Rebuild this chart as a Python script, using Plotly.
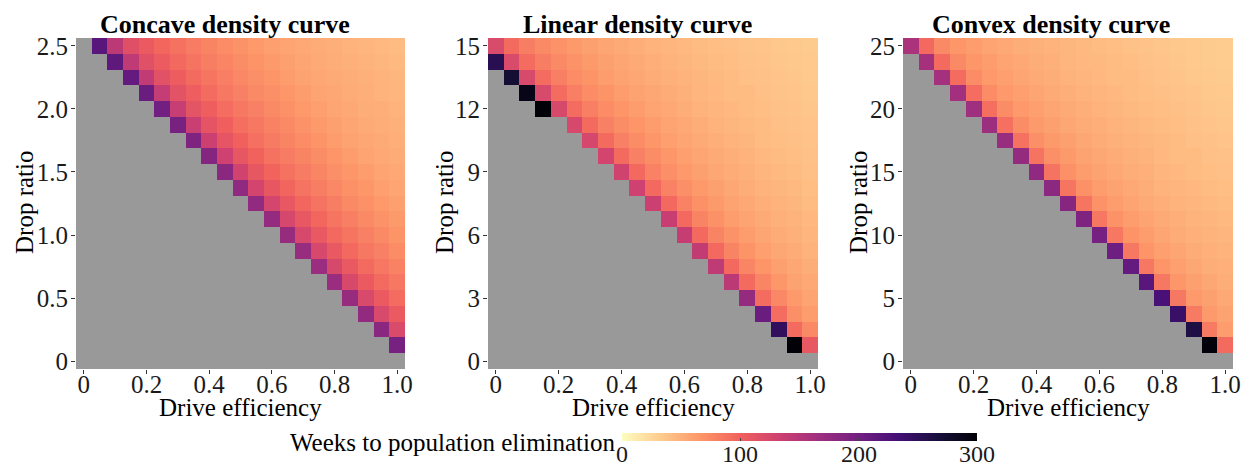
import plotly.graph_objects as go

# Drive efficiency (x) shared by all three panels
efficiency = [0.0, 0.05, 0.1, 0.15, 0.2, 0.25, 0.3, 0.35, 0.4, 0.45, 0.5,
              0.55, 0.6, 0.65, 0.7, 0.75, 0.8, 0.85, 0.9, 0.95, 1.0]

# Drop ratio (y) for each density curve, from top row down to 0
drop_concave = [2.5, 2.375, 2.25, 2.125, 2.0, 1.875, 1.75, 1.625, 1.5, 1.375, 1.25,
                1.125, 1.0, 0.875, 0.75, 0.625, 0.5, 0.375, 0.25, 0.125, 0.0]
drop_linear = [15.0, 14.25, 13.5, 12.75, 12.0, 11.25, 10.5, 9.75, 9.0, 8.25, 7.5,
               6.75, 6.0, 5.25, 4.5, 3.75, 3.0, 2.25, 1.5, 0.75, 0.0]
drop_convex = [25.0, 23.75, 22.5, 21.25, 20.0, 18.75, 17.5, 16.25, 15.0, 13.75, 12.5,
               11.25, 10.0, 8.75, 7.5, 6.25, 5.0, 3.75, 2.5, 1.25, 0.0]

# Weeks to population elimination, one list per drop-ratio row (top row first).
# Each row lists only the eliminated cells, which sit at the high-efficiency end;
# cells to their left never reach elimination and stay empty.
weeks_concave = [
    [218, 146, 117, 106, 96, 89, 83, 78, 73, 69, 65, 61, 58, 55, 53, 51, 49, 47, 45, 43],
    [214, 144, 116, 105, 95, 88, 82, 77, 72, 68, 64, 60, 57, 54, 52, 50, 48, 46, 44],
    [210, 142, 115, 104, 94, 87, 81, 76, 71, 67, 63, 59, 56, 54, 52, 50, 48, 46],
    [206, 140, 114, 103, 93, 86, 80, 75, 71, 66, 62, 58, 56, 53, 51, 49, 47],
    [201, 138, 113, 102, 92, 85, 80, 75, 70, 65, 61, 57, 55, 52, 51, 48],
    [196, 136, 112, 101, 91, 85, 79, 74, 69, 64, 60, 57, 54, 52, 50],
    [191, 134, 111, 100, 90, 84, 78, 73, 68, 63, 59, 56, 54, 51],
    [186, 132, 110, 99, 89, 83, 78, 72, 67, 62, 58, 55, 53],
    [182, 130, 109, 98, 89, 83, 77, 71, 66, 62, 58, 55],
    [178, 128, 109, 97, 88, 82, 76, 70, 66, 61, 57],
    [176, 127, 108, 96, 88, 82, 75, 70, 65, 60],
    [174, 126, 108, 96, 87, 81, 75, 69, 64],
    [172, 125, 107, 95, 87, 80, 74, 68],
    [171, 125, 107, 95, 86, 80, 73],
    [170, 124, 107, 94, 86, 79],
    [170, 124, 106, 94, 85],
    [172, 123, 106, 93],
    [176, 123, 106],
    [182, 122],
    [196],
    [],
]

weeks_linear = [
    [122, 94, 82, 74, 69, 64, 60, 57, 54, 51, 49, 47, 45, 43, 41, 40, 38, 37, 35, 34, 33],
    [255, 122, 93, 82, 74, 69, 64, 60, 57, 54, 51, 48, 46, 44, 43, 41, 39, 38, 36, 35, 34],
    [272, 123, 93, 81, 73, 68, 63, 59, 56, 53, 50, 48, 46, 44, 42, 40, 39, 37, 36, 34],
    [288, 123, 93, 81, 73, 68, 63, 59, 56, 53, 50, 47, 45, 43, 42, 40, 38, 37, 35],
    [298, 124, 93, 81, 73, 67, 62, 58, 55, 52, 49, 47, 45, 43, 41, 39, 38, 36],
    [125, 94, 80, 72, 67, 62, 58, 55, 52, 49, 46, 44, 42, 40, 39, 37],
    [126, 94, 80, 72, 66, 61, 57, 54, 51, 48, 46, 43, 41, 40, 38],
    [128, 94, 80, 72, 66, 61, 57, 54, 51, 48, 45, 43, 41, 39],
    [130, 95, 79, 71, 65, 60, 56, 53, 50, 47, 44, 42, 40],
    [132, 95, 79, 71, 65, 60, 56, 52, 49, 46, 44, 41],
    [134, 95, 79, 70, 64, 59, 55, 51, 48, 46, 43],
    [137, 95, 78, 70, 63, 58, 54, 50, 48, 45],
    [139, 95, 78, 69, 62, 57, 53, 50, 47],
    [141, 95, 78, 68, 61, 56, 53, 49],
    [143, 95, 77, 67, 60, 56, 52],
    [146, 94, 77, 66, 59, 55],
    [174, 93, 76, 65, 58],
    [205, 92, 71, 63],
    [248, 94, 74],
    [298, 108],
    [],
]

weeks_convex = [
    [158, 95, 74, 66, 62, 58, 55, 52, 50, 48, 46, 44, 42, 41, 39, 38, 36, 35, 34, 33, 32],
    [162, 94, 74, 66, 62, 58, 55, 52, 50, 47, 45, 44, 42, 41, 39, 37, 36, 34, 33, 32],
    [163, 93, 73, 65, 61, 57, 54, 52, 49, 47, 45, 43, 42, 40, 38, 37, 35, 34, 33],
    [164, 92, 73, 65, 61, 57, 54, 51, 49, 47, 45, 43, 41, 40, 38, 37, 35, 34],
    [166, 91, 72, 65, 61, 57, 54, 51, 49, 46, 44, 43, 41, 40, 38, 36, 35],
    [169, 90, 72, 64, 60, 56, 53, 51, 48, 46, 44, 42, 41, 39, 37, 36],
    [171, 89, 71, 64, 60, 56, 53, 50, 48, 46, 44, 42, 40, 39, 37],
    [174, 88, 71, 64, 59, 56, 53, 50, 48, 45, 43, 42, 40, 39],
    [177, 88, 70, 63, 59, 55, 52, 50, 47, 45, 43, 41, 40],
    [181, 87, 70, 63, 59, 55, 52, 49, 47, 45, 43, 41],
    [185, 87, 69, 62, 58, 54, 51, 49, 46, 44, 43],
    [191, 86, 69, 62, 58, 54, 51, 48, 46, 44],
    [197, 86, 68, 62, 57, 53, 50, 48, 46],
    [203, 86, 67, 61, 57, 53, 50, 48],
    [210, 85, 67, 61, 56, 52, 50],
    [218, 85, 66, 60, 56, 52],
    [230, 85, 65, 60, 55],
    [242, 84, 64, 59],
    [262, 84, 63],
    [296, 94],
    [],
]

panel_titles = ["Concave density curve", "Linear density curve", "Convex density curve"]
x_ticks = [0, 0.2, 0.4, 0.6, 0.8, 1.0]
x_ticktext = ["0", "0.2", "0.4", "0.6", "0.8", "1.0"]
y_ticks_concave = [0, 0.5, 1.0, 1.5, 2.0, 2.5]
y_ticktext_concave = ["0", "0.5", "1.0", "1.5", "2.0", "2.5"]
y_ticks_linear = [0, 3, 6, 9, 12, 15]
y_ticks_convex = [0, 5, 10, 15, 20, 25]
colorbar_ticks = [0, 100, 200, 300]

FONT = "Liberation Serif"
W, H = 1248, 468
CMIN, CMAX = 0, 300


def full_grid(rows):
    """Left-pad each row with empty cells so every row spans all efficiencies."""
    n = len(efficiency)
    return [[None] * (n - len(r)) + list(r) for r in rows]


def px_x(p):
    return p / W


def px_y(p):
    return 1 - p / H


fig = go.Figure()
panels = [
    (weeks_concave, drop_concave, y_ticks_concave, y_ticktext_concave),
    (weeks_linear, drop_linear, y_ticks_linear, [str(v) for v in y_ticks_linear]),
    (weeks_convex, drop_convex, y_ticks_convex, [str(v) for v in y_ticks_convex]),
]
x_domains = [(76, 405), (488, 818), (903, 1233)]
y_domain = [px_y(369), px_y(38)]

for k, (weeks, drops, yt, ytt) in enumerate(panels):
    suffix = "" if k == 0 else str(k + 1)
    fig.add_trace(go.Heatmap(
        x=efficiency, y=drops, z=full_grid(weeks),
        coloraxis="coloraxis",
        xaxis="x" + suffix, yaxis="y" + suffix,
        hoverongaps=False,
    ))
    step = drops[0] - drops[1]
    axis_common = dict(showgrid=False, zeroline=False, showline=False, automargin=False,
                       ticks="outside", ticklen=4, tickcolor="#333333", tickwidth=1,
                       tickfont=dict(family=FONT, size=25, color="#1a1a1a"))
    fig.update_layout(**{
        "xaxis" + suffix: dict(domain=[px_x(x_domains[k][0]), px_x(x_domains[k][1])],
                               range=[-0.025, 1.025], tickvals=x_ticks, ticktext=x_ticktext,
                               ticklabelstandoff=-11,
                               anchor="y" + suffix, **axis_common),
        "yaxis" + suffix: dict(domain=y_domain,
                               range=[-step / 2, drops[0] + step / 2], tickvals=yt, ticktext=ytt,
                               ticklabelstandoff=-2,
                               anchor="x" + suffix, **axis_common),
    })

annotations = []
title_x = [225, 637, 1051]
ytitle_x = [24, 444, 858]
for k in range(3):
    annotations.append(dict(text="<b>" + panel_titles[k] + "</b>", x=px_x(title_x[k]), y=px_y(24),
                            xref="paper", yref="paper", xanchor="center", yanchor="middle",
                            showarrow=False, font=dict(family=FONT, size=26, color="black")))
    annotations.append(dict(text="Drop ratio", x=px_x(ytitle_x[k]), y=px_y(203), textangle=-90,
                            xref="paper", yref="paper", xanchor="center", yanchor="middle",
                            showarrow=False, font=dict(family=FONT, size=25, color="black")))
    cx = (x_domains[k][0] + x_domains[k][1]) / 2
    annotations.append(dict(text="Drive efficiency", x=px_x(cx), y=px_y(407),
                            xref="paper", yref="paper", xanchor="center", yanchor="middle",
                            showarrow=False, font=dict(family=FONT, size=25, color="black")))

annotations.append(dict(text="Weeks to population elimination", x=px_x(618), y=px_y(442),
                        xref="paper", yref="paper", xanchor="right", yanchor="middle",
                        showarrow=False, font=dict(family=FONT, size=25, color="black")))

# Colour bar geometry (pixels) and its tick labels placed along the bar's own scale
CB_LEFT, CB_RIGHT, CB_TOP = 622, 977, 433
for v in colorbar_ticks:
    xpos = CB_LEFT + (v - CMIN) / (CMAX - CMIN) * (CB_RIGHT - CB_LEFT)
    annotations.append(dict(text=str(v), x=px_x(xpos), y=px_y(454),
                            xref="paper", yref="paper", xanchor="center", yanchor="middle",
                            showarrow=False, font=dict(family=FONT, size=24, color="#1a1a1a")))

fig.update_layout(
    width=W, height=H,
    margin=dict(l=0, r=0, t=0, b=0, autoexpand=False),
    paper_bgcolor="white",
    plot_bgcolor="#999999",
    showlegend=False,
    annotations=annotations,
    coloraxis=dict(
        colorscale="Magma", reversescale=True, cmin=CMIN, cmax=CMAX,
        colorbar=dict(
            orientation="h",
            x=px_x((CB_LEFT + CB_RIGHT) / 2), xanchor="center",
            y=px_y(CB_TOP), yanchor="top",
            len=(CB_RIGHT - CB_LEFT) / W, lenmode="fraction",
            thickness=8, thicknessmode="pixels",
            xpad=0, ypad=0, outlinewidth=0,
            tickvals=colorbar_ticks, ticks="inside", ticklen=3, tickcolor="#444444",
            showticklabels=False,
        ),
    ),
)

fig.write_html("out.html")
